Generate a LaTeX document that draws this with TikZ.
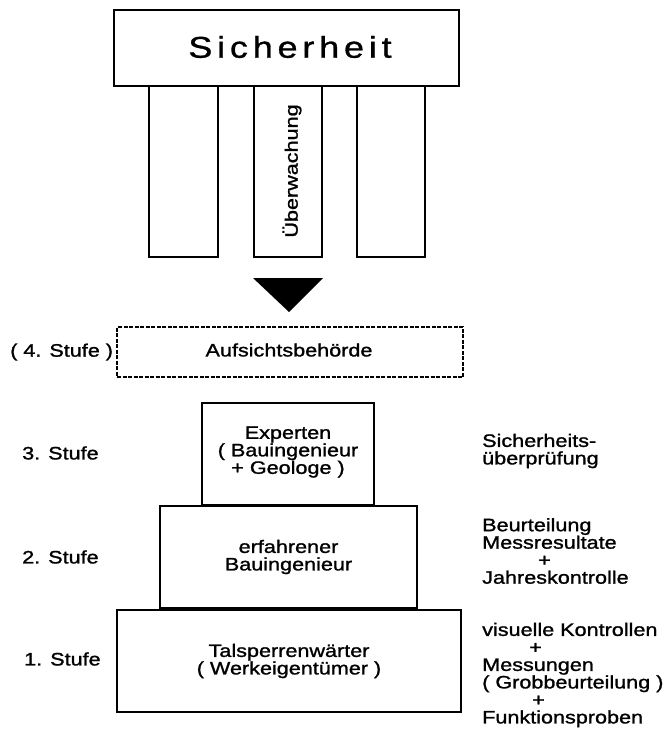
\documentclass[tikz,border=0pt]{standalone}
\usepackage{fontspec}
\setmainfont[FakeStretch=1.2,FakeBold=1.3]{Liberation Sans}
\newfontfamily\sichfont[FakeStretch=1.2,FakeBold=1,LetterSpace=16]{Liberation Sans}
\begin{document}
\begin{tikzpicture}[x=1pt,y=-1pt,
  box/.style={draw, line width=1.6pt, inner sep=0pt, fill=white},
  txt/.style={font=\fontsize{18}{17.5}\selectfont, align=center, inner sep=0pt},
  lab/.style={font=\fontsize{18}{17.5}\selectfont, align=left, inner sep=0pt, anchor=west}]
\useasboundingbox (0,0) rectangle (669,735);
% pillars
\node[box, minimum width=69pt, minimum height=171pt] (p1) at (183.5,171.5) {};
\node[box, minimum width=68pt, minimum height=171pt] (p2) at (288,171.5) {};
\node[box, minimum width=68pt, minimum height=171pt] (p3) at (391,171.5) {};
\node[txt, rotate=90] (ueb) at (292,171) {Überwachung};
% roof
\node[box, minimum width=345pt, minimum height=76pt] (sich) at (286.5,48) {};
\node[inner sep=0pt, font=\sichfont\fontsize{30}{30}\selectfont] (sicht) at (290,47) {Sicherheit};
% triangle
\coordinate (tl) at (253,278);
\coordinate (tr) at (323,278);
\coordinate (tb) at (289,312);
\fill (tl) -- (tr) -- (tb) -- cycle;
% level 4
\node[box, dash pattern=on 4pt off 1.5pt, minimum width=346pt, minimum height=50pt] (s4) at (290,352) {};
\node[txt] (s4t) at (289,350) {Aufsichtsbehörde};
\node[lab] (l4) at (10,352) {( 4. Stufe )};
% level 3
\node[box, minimum width=172pt, minimum height=102pt] (s3) at (288,454) {};
\node[txt] (s3t) at (288,452) {Experten\\( Bauingenieur\\+ Geologe )};
\node[lab] (l3) at (22,453) {3. Stufe};
\node[lab] (r3) at (482,451) {Sicherheits-\\überprüfung};
% level 2
\node[box, minimum width=257pt, minimum height=102pt] (s2) at (288.5,557) {};
\node[txt] (s2t) at (288.5,557) {erfahrener\\Bauingenieur};
\node[lab] (l2) at (22,557) {2. Stufe};
\node[lab] (r2) at (482,551) {Beurteilung\\Messresultate\\\hspace*{56pt}+\\Jahreskontrolle};
% level 1
\node[box, minimum width=344pt, minimum height=102pt] (s1) at (289,661) {};
\node[txt] (s1t) at (289,661) {Talsperrenwärter\\( Werkeigentümer )};
\node[lab] (l1) at (24,659) {1. Stufe};
\node[lab] (r1) at (482,675) {visuelle Kontrollen\\\hspace*{47pt}+\\Messungen\\( Grobbeurteilung )\\\hspace*{50pt}+\\Funktionsproben};
\end{tikzpicture}
\end{document}
